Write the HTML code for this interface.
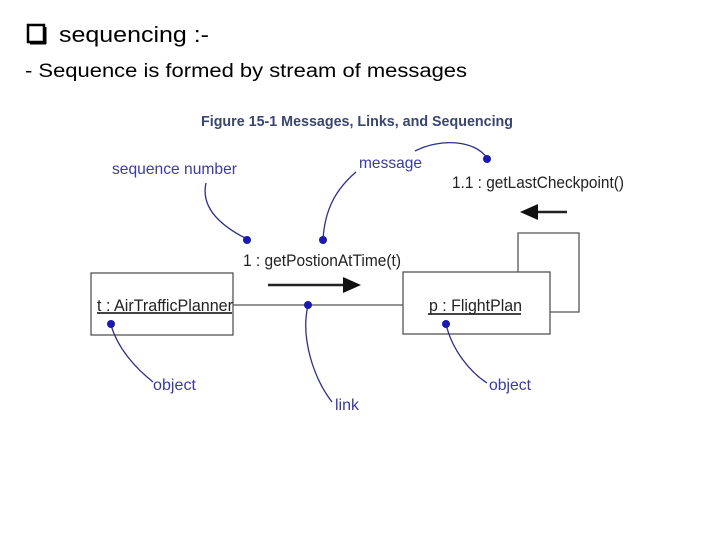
<!DOCTYPE html>
<html><head><meta charset="utf-8"><style>
html,body{margin:0;padding:0;background:#fff;}
svg{display:block;}
</style></head><body>
<svg width="720" height="540" viewBox="0 0 720 540" xmlns="http://www.w3.org/2000/svg" font-family="'Liberation Sans Narrow','Liberation Sans',sans-serif">
<rect x="28" y="25" width="16" height="17" fill="none" stroke="#000" stroke-width="2.5"/>
<line x1="30" y1="43.5" x2="46" y2="43.5" stroke="#000" stroke-width="2"/>
<line x1="45.5" y1="27" x2="45.5" y2="44" stroke="#000" stroke-width="2"/>
<text x="59" y="42" font-family="'Liberation Sans',sans-serif" font-size="22" textLength="150" lengthAdjust="spacingAndGlyphs">sequencing :-</text>
<text x="25" y="77" font-family="'Liberation Sans',sans-serif" font-size="19" textLength="442" lengthAdjust="spacingAndGlyphs">-  Sequence is  formed by stream of messages</text>

<text x="201" y="126" font-size="15" font-weight="bold" fill="#3a4670" textLength="312" lengthAdjust="spacingAndGlyphs">Figure 15-1 Messages, Links, and Sequencing</text>

<g fill="none" stroke="#555" stroke-width="1.3">
<rect x="91" y="273" width="142" height="62"/>
<rect x="403" y="272" width="147" height="62"/>
<line x1="233" y1="305" x2="403" y2="305"/>
<polyline points="518,272 518,233 579,233 579,312 550,312"/>
</g>
<line x1="97" y1="313" x2="232" y2="313" stroke="#444" stroke-width="2"/>
<line x1="428" y1="314" x2="521" y2="314" stroke="#444" stroke-width="2"/>
<text x="97" y="311" font-size="17" fill="#222" textLength="136" lengthAdjust="spacingAndGlyphs">t : AirTrafficPlanner</text>
<text x="429" y="311" font-size="17" fill="#222" textLength="93" lengthAdjust="spacingAndGlyphs">p : FlightPlan</text>
<text x="243" y="266" font-size="17" fill="#222" textLength="158" lengthAdjust="spacingAndGlyphs">1 : getPostionAtTime(t)</text>
<text x="452" y="188" font-size="17" fill="#222" textLength="172" lengthAdjust="spacingAndGlyphs">1.1 : getLastCheckpoint()</text>

<line x1="268" y1="285" x2="345" y2="285" stroke="#222" stroke-width="2.5"/>
<polygon points="343,277 361,285 343,293" fill="#111"/>
<line x1="537" y1="212" x2="567" y2="212" stroke="#222" stroke-width="2.5"/>
<polygon points="538,204 520,212 538,220" fill="#111"/>

<g fill="none" stroke="#2b2f86" stroke-width="1.3">
<path d="M206 183 C200 210 225 228 247 239"/>
<path d="M356 172 C335 190 325 210 323 239"/>
<path d="M415 151 C440 138 475 140 487 158"/>
<path d="M111 325 C118 350 138 370 153 382"/>
<path d="M308 305 C300 340 315 380 332 402"/>
<path d="M446 324 C452 350 470 372 487 383"/>
</g>
<g fill="#1a1ab0">
<circle cx="247" cy="240" r="4"/>
<circle cx="323" cy="240" r="4"/>
<circle cx="487" cy="159" r="4"/>
<circle cx="111" cy="324" r="4"/>
<circle cx="308" cy="305" r="4"/>
<circle cx="446" cy="324" r="4"/>
</g>
<g font-size="16" fill="#3a3aa6">
<text x="112" y="174" textLength="125" lengthAdjust="spacingAndGlyphs">sequence number</text>
<text x="359" y="168" textLength="63" lengthAdjust="spacingAndGlyphs">message</text>
<text x="153" y="390" textLength="43" lengthAdjust="spacingAndGlyphs">object</text>
<text x="335" y="410" textLength="24" lengthAdjust="spacingAndGlyphs">link</text>
<text x="489" y="390" textLength="42" lengthAdjust="spacingAndGlyphs">object</text>
</g>
</svg>
</body></html>
